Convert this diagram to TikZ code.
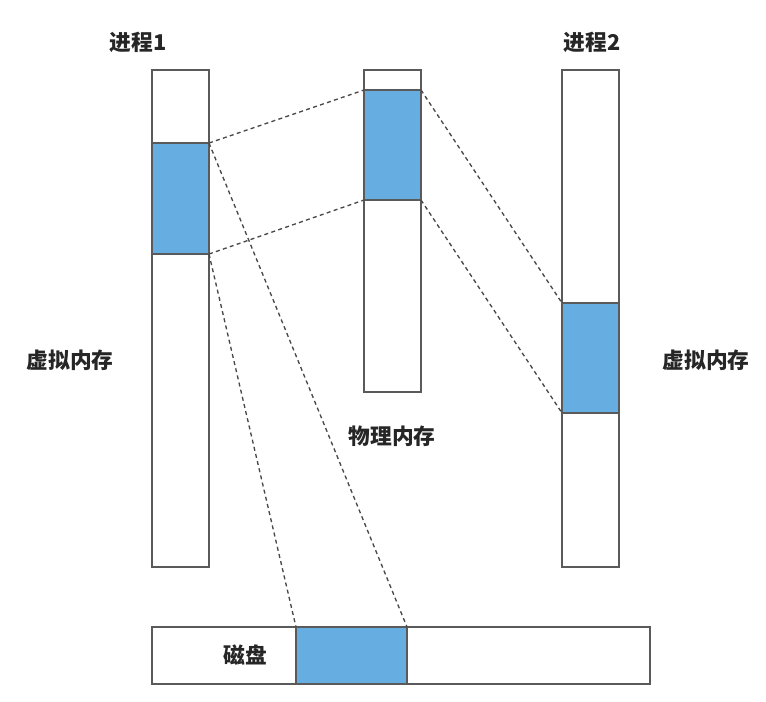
\documentclass[tikz,border=0pt]{standalone}
\usepackage{fontspec}
\newfontfamily\cjk{Noto Sans CJK SC}
\usepackage{xcolor}
\usepackage{tikz}
\usetikzlibrary{positioning}
\definecolor{barline}{HTML}{5A5A5A}
\definecolor{pageblue}{HTML}{66AEE2}
\tikzset{
  bar/.style={draw=barline, line width=1.3pt, fill=white},
  page/.style={draw=barline, line width=1.3pt, fill=pageblue},
  map/.style={draw=barline!80!black, line width=1pt, dash pattern=on 3pt off 2.5pt},
  lbl/.style={font=\cjk\bfseries\fontsize{16.3}{18}\selectfont, text=black!85}
}
\begin{document}
\begin{tikzpicture}[x=0.75pt, y=-0.75pt]
      \useasboundingbox (0,0) rectangle (766,701);

      % virtual memory of process 1
      \draw[bar] (152,70) rectangle (209,567);
      \draw[page] (152,143) rectangle (209,254);
      \coordinate (p1tr) at (209,143);
      \coordinate (p1br) at (209,254);

      % physical memory
      \draw[bar] (364,70) rectangle (421,392);
      \draw[page] (364,90) rectangle (421,200);
      \coordinate (phtl) at (364,90);
      \coordinate (phbl) at (364,200);
      \coordinate (phtr) at (421,90);
      \coordinate (phbr) at (421,200);

      % virtual memory of process 2
      \draw[bar] (562,70) rectangle (619,567);
      \draw[page] (562,303) rectangle (619,413);
      \coordinate (p2tl) at (562,303);
      \coordinate (p2bl) at (562,413);

      % disk
      \draw[bar] (152,627) rectangle (650,684);
      \draw[page] (296,627) rectangle (407,684);
      \coordinate (dkl) at (296,627);
      \coordinate (dkr) at (407,627);

      % mappings
      \draw[map] (p1tr) -- (phtl);
      \draw[map] (p1br) -- (phbl);
      \draw[map] (phtr) -- (p2tl);
      \draw[map] (phbr) -- (p2bl);
      \draw[map] (p1tr) -- (dkr);
      \draw[map] (p1br) -- (dkl);

    \node[lbl] (proc1) at (138,42) {进程1};
    \node[lbl] (proc2) at (592,42) {进程2};
    \node[lbl] (virt1) at (70,360) {虚拟内存};
    \node[lbl] (virt2) at (706,360) {虚拟内存};
    \node[lbl] (phys) at (392,436) {物理内存};
    \node[lbl] (disk) at (245,655) {磁盘};
    \end{tikzpicture}
\end{document}
